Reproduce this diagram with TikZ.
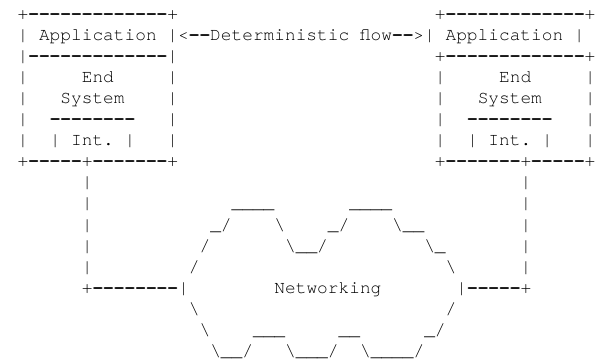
\documentclass[tikz,border=0pt]{standalone}
\usepackage{fontspec}
\usepackage{graphicx}
\setmonofont{texgyrecursor}[Extension=.otf,UprightFont=*-regular,BoldFont=*-bold]
\newcommand\hyc{\makebox[0.6em][c]{\bfseries -}}
\ExplSyntaxOn
\newcommand\hyrun[1]{\prg_replicate:nn{#1}{\hyc}}
\ExplSyntaxOff
\tikzset{asc/.style={anchor=base west,inner sep=0pt,outer sep=0pt,
  font=\ttfamily\fontsize{17.83bp}{21bp}\selectfont\frenchspacing}}
\begin{document}
\begin{tikzpicture}
\useasboundingbox (0,0) rectangle (597bp,-364bp);
\begin{scope}[x=10.7bp,y=-21.1bp,shift={(17.65bp,-19bp)}]
% row 1
\node[asc] (r1a) at (0,0) {+\hyrun{13}+};
\node[asc] (r1b) at (39,0) {+\hyrun{13}+};
% row 2
\node[asc] (r2) at (0,1) {| Application |<\hyrun{2}Deterministic flow\hyrun{2}>| Application |};
% row 3
\node[asc] (r3a) at (0,2) {|\hyrun{13}|};
\node[asc] (r3b) at (39,2) {+\hyrun{13}+};
% row 4
\node[asc] (r4a) at (0,3) {|};
\node[asc] (r4b) at (6,3) {End};
\node[asc] (r4c) at (14,3) {|};
\node[asc] (r4d) at (39,3) {|};
\node[asc] (r4e) at (45,3) {End};
\node[asc] (r4f) at (53,3) {|};
% row 5
\node[asc] (r5a) at (0,4) {|};
\node[asc] (r5b) at (4,4) {System};
\node[asc] (r5c) at (14,4) {|};
\node[asc] (r5d) at (39,4) {|};
\node[asc] (r5e) at (43,4) {System};
\node[asc] (r5f) at (53,4) {|};
% row 6
\node[asc] (r6a) at (0,5) {|};
\node[asc] (r6b) at (3,5) {\hyrun{8}};
\node[asc] (r6c) at (14,5) {|};
\node[asc] (r6d) at (39,5) {|};
\node[asc] (r6e) at (42,5) {\hyrun{8}};
\node[asc] (r6f) at (53,5) {|};
% row 7
\node[asc] (r7a) at (0,6) {|};
\node[asc] (r7b) at (3,6) {| Int. |};
\node[asc] (r7c) at (14,6) {|};
\node[asc] (r7d) at (39,6) {|};
\node[asc] (r7e) at (42,6) {| Int. |};
\node[asc] (r7f) at (53,6) {|};
% row 8
\node[asc] (r8a) at (0,7) {+\hyrun{5}+\hyrun{7}+};
\node[asc] (r8b) at (39,7) {+\hyrun{7}+\hyrun{5}+};
% row 9
\node[asc] (r9a) at (6,8) {|};
\node[asc] (r9b) at (47,8) {|};
% row 10
\node[asc] (r10a) at (6,9) {|};
\node[asc] (r10b) at (20,9) {\_\_\_\_};
\node[asc] (r10c) at (31,9) {\_\_\_\_};
\node[asc] (r10d) at (47,9) {|};
% row 11
\node[asc] (r11a) at (6,10) {|};
\node[asc] (r11b) at (18,10) {\_/};
\node[asc] (r11c) at (24,10) {\textbackslash};
\node[asc] (r11d) at (29,10) {\_/};
\node[asc] (r11e) at (35,10) {\textbackslash\_\_};
\node[asc] (r11f) at (47,10) {|};
% row 12
\node[asc] (r12a) at (6,11) {|};
\node[asc] (r12b) at (17,11) {/};
\node[asc] (r12c) at (25,11) {\textbackslash\_\_/};
\node[asc] (r12d) at (38,11) {\textbackslash\_};
\node[asc] (r12e) at (47,11) {|};
% row 13
\node[asc] (r13a) at (6,12) {|};
\node[asc] (r13b) at (16,12) {/};
\node[asc] (r13c) at (40,12) {\textbackslash};
\node[asc] (r13d) at (47,12) {|};
% row 14
\node[asc] (r14a) at (6,13) {+\hyrun{8}|};
\node[asc] (r14b) at (24,13) {Networking};
\node[asc] (r14c) at (41,13) {|\hyrun{5}+};
% row 15
\node[asc] (r15a) at (16,14) {\textbackslash};
\node[asc] (r15b) at (40,14) {/};
% row 16
\node[asc] (r16a) at (17,15) {\textbackslash};
\node[asc] (r16b) at (22,15) {\_\_\_};
\node[asc] (r16c) at (30,15) {\_\_};
\node[asc] (r16d) at (38,15) {\_/};
% row 17
\node[asc] (r17a) at (18,16) {\textbackslash\_\_/};
\node[asc] (r17b) at (25,16) {\textbackslash\_\_\_/};
\node[asc] (r17c) at (32,16) {\textbackslash\_\_\_\_/};
\end{scope}
\end{tikzpicture}
\end{document}
